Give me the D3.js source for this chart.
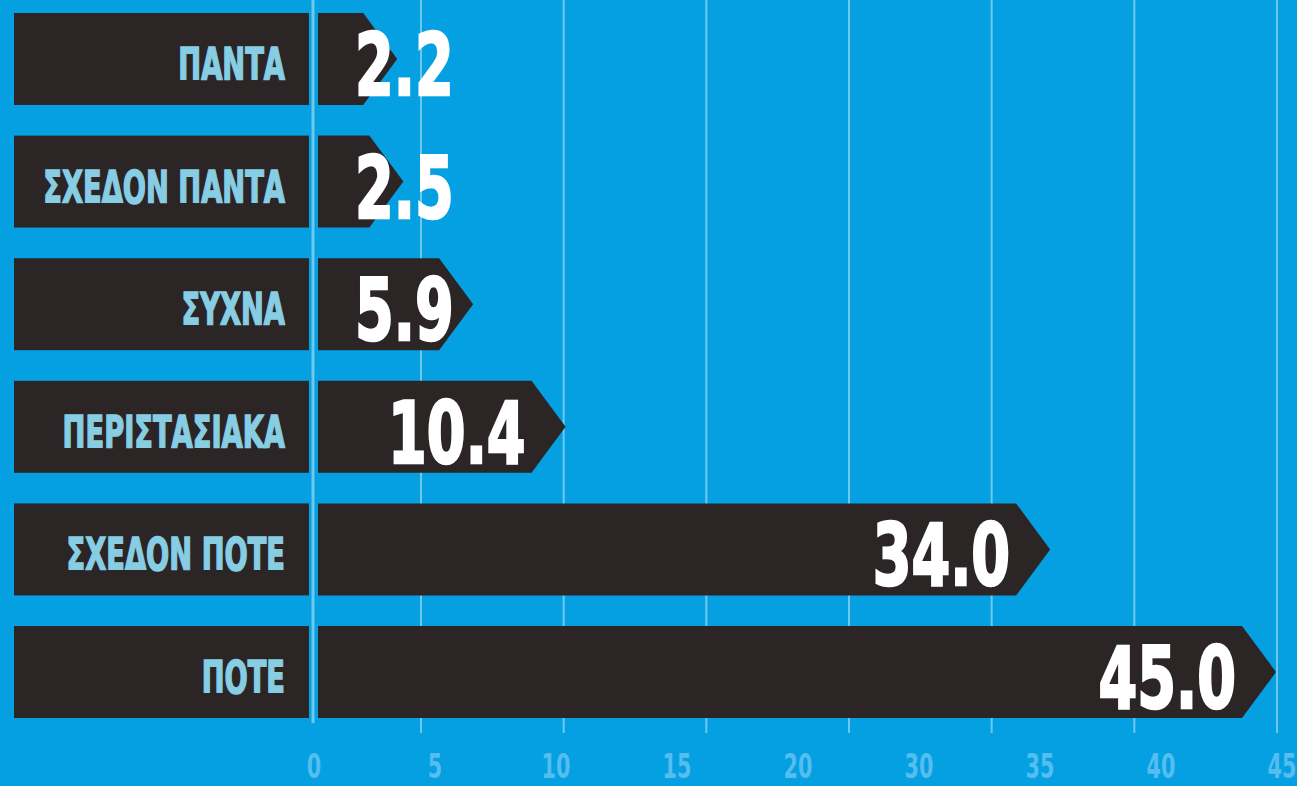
<!DOCTYPE html>
<html>
<head>
<meta charset="utf-8">
<script src="https://cdn.jsdelivr.net/npm/d3@7"></script>
<style>
  html, body { margin: 0; padding: 0; background: #05a0e1; overflow: hidden; }
  svg { display: block; }
</style>
</head>
<body>
<svg id="chart" width="1297" height="786"></svg>
<script>
// ---- data ----
const categories = ["ΠΑΝΤΑ", "ΣΧΕΔΟΝ ΠΑΝΤΑ", "ΣΥΧΝΑ", "ΠΕΡΙΣΤΑΣΙΑΚΑ", "ΣΧΕΔΟΝ ΠΟΤΕ", "ΠΟΤΕ"];
const values = [2.2, 2.5, 5.9, 10.4, 34.0, 45.0];
const valueLabels = ["2.2", "2.5", "5.9", "10.4", "34.0", "45.0"];
const tickLabels = ["0", "5", "10", "15", "20", "30", "35", "40", "45"];
const gridIndex = [0, 1, 2, 3, 4, 5, 6];

// ---- layout ----
const W = 1297, H = 786;
const BG = "#05a0e1", DARK = "#2b2526";
const FONT = "'DejaVu Sans Condensed', 'DejaVu Sans', sans-serif";

const svg = d3.select("#chart");
svg.append("rect").attr("width", W).attr("height", H).attr("fill", BG);

const x = d3.scaleLinear().domain([0, 45]).range([318, 1242]);
const y = d3.scaleBand().domain(categories).range([13, 718]).paddingInner(0.25).paddingOuter(0);
const tickX = d3.scalePoint().domain(tickLabels).range([314, 1282]);
const gridX = d3.scaleLinear().domain([0, 6]).range([421, 1277]);
const arrow = 34;

// gridlines
const gridColor = "rgba(255,255,255,0.42)";
svg.append("g").selectAll("line").data(gridIndex).join("line")
  .attr("x1", d => gridX(d)).attr("x2", d => gridX(d))
  .attr("y1", 0).attr("y2", 733)
  .attr("stroke", gridColor).attr("stroke-width", 2);
svg.append("line")
  .attr("x1", x(0) - 5).attr("x2", x(0) - 5)
  .attr("y1", 0).attr("y2", 723)
  .attr("stroke", gridColor).attr("stroke-width", 3);

const rows = svg.append("g").selectAll("g").data(categories).join("g");

// label boxes
rows.append("rect")
  .attr("x", 14).attr("width", 295)
  .attr("y", d => y(d)).attr("height", y.bandwidth())
  .attr("fill", DARK);

const catSX = 0.69;
rows.append("g")
  .attr("transform", d => `translate(285,${y(d) + 67}) scale(${catSX},1)`)
  .append("text")
  .attr("text-anchor", "end")
  .attr("font-family", FONT).attr("font-weight", "bold")
  .attr("font-size", 44)
  .attr("fill", "#87cde3")
  .attr("stroke", "#87cde3").attr("stroke-width", 1.5)
  .text(d => d);

// bars (arrow shapes)
rows.append("path")
  .attr("fill", DARK)
  .attr("d", (d, i) => {
    const x0 = x(0), xb = x(values[i]);
    const y0 = y(d), y1 = y(d) + y.bandwidth(), ym = (y0 + y1) / 2;
    const p = d3.path();
    p.moveTo(x0, y0); p.lineTo(xb, y0); p.lineTo(xb + arrow, ym);
    p.lineTo(xb, y1); p.lineTo(x0, y1); p.closePath();
    return p.toString();
  });

// value labels
const valSX = 0.72;
rows.append("g")
  .each(function (d, i) {
    const g = d3.select(this);
    const t = g.append("text")
      .attr("font-family", FONT).attr("font-weight", "bold")
      .attr("font-size", 86)
      .attr("fill", "#ffffff")
      .attr("stroke", "#ffffff").attr("stroke-width", 2.5)
      .text(valueLabels[i]);
    const w = t.node().getComputedTextLength() * valSX;
    const endX = x(values[i]) - 6;
    let tx, anchor;
    if (endX - w < x(0) + 34) { tx = x(0) + 37; anchor = "start"; }
    else { tx = endX; anchor = "end"; }
    t.attr("text-anchor", anchor);
    g.attr("transform", `translate(${tx},${y(d) + 82}) scale(${valSX},1)`);
  });

// axis labels
const axSX = 0.7;
svg.append("g").selectAll("g").data(tickLabels).join("g")
  .attr("transform", d => `translate(${tickX(d)},778) scale(${axSX},1)`)
  .append("text")
  .attr("text-anchor", "middle")
  .attr("font-family", FONT).attr("font-weight", "bold")
  .attr("font-size", 33)
  .attr("fill", "#55bdf0")
  .text(d => d);
</script>
</body>
</html>
